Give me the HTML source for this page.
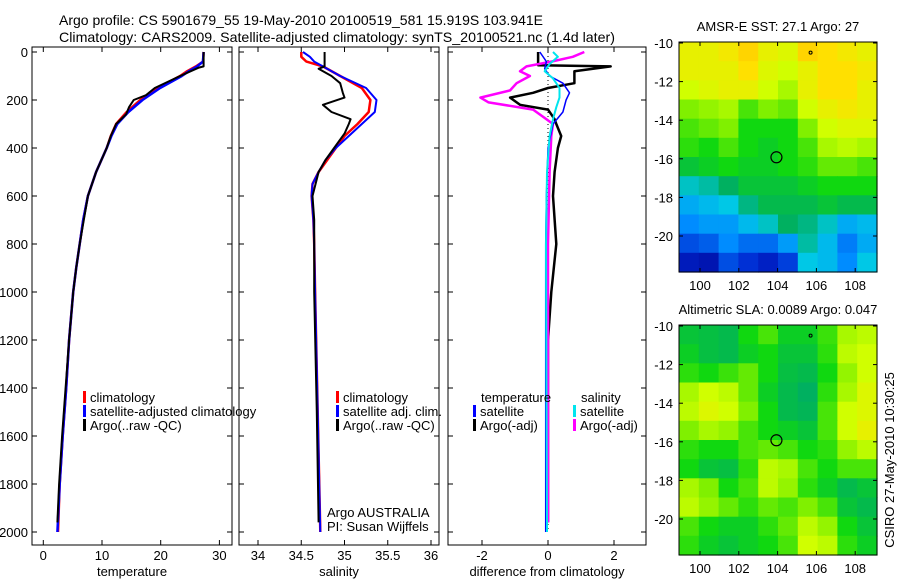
<!DOCTYPE html>
<html><head><meta charset="utf-8"><style>
html,body{margin:0;padding:0;background:#fff;}
svg{display:block;font-family:"Liberation Sans",sans-serif;}
</style></head><body>
<svg id="chart" width="900" height="580" viewBox="0 0 900 580" xmlns="http://www.w3.org/2000/svg">
<text x="59" y="25" font-size="14" textLength="484" lengthAdjust="spacingAndGlyphs">Argo profile: CS 5901679_55 19-May-2010 20100519_581 15.919S 103.941E</text>
<text x="59" y="42" font-size="14" textLength="556" lengthAdjust="spacingAndGlyphs">Climatology: CARS2009. Satellite-adjusted climatology: synTS_20100521.nc (1.4d later)</text>
<g id="plots"></g>
</svg>
<script>
// ---- data ----
const tempClimDepth=[0,40,60,80,100,150,200,250,300,350,400,500,600,700,800,900,1000,1200,1400,1600,1800,2000];
const tempClim=[27.3,27.2,26.0,24.5,23.3,19.5,16.5,14.2,12.4,11.5,10.8,9.0,7.6,6.8,6.2,5.6,5.1,4.4,3.9,3.3,2.8,2.5];
const tempSat=[27.3,27.2,26.2,24.8,23.6,19.9,16.9,14.5,12.6,11.6,10.8,9.0,7.6,6.8,6.2,5.6,5.1,4.4,3.9,3.3,2.8,2.4];
const argoDepth=[0,60,65,100,150,180,200,230,260,300,350,400,500,600,700,800,900,1000,1200,1400,1600,1800,1960];
const tempArgo=[27.3,27.3,26.5,23.3,19.0,17.5,15.4,14.6,14.1,12.4,11.5,10.8,9.0,7.6,6.9,6.2,5.6,5.1,4.4,3.8,3.2,2.7,2.4];
const salClimDepth=[0,20,40,60,100,150,200,250,300,350,400,450,500,550,600,700,800,1000,1500,2000];
const salClim=[34.5,34.5,34.56,34.75,34.95,35.2,35.3,35.28,35.15,35.0,34.9,34.8,34.7,34.63,34.62,34.64,34.65,34.66,34.69,34.72];
const salSat=[34.52,34.6,34.65,34.75,34.95,35.25,35.37,35.35,35.2,35.05,34.9,34.78,34.7,34.63,34.62,34.64,34.65,34.66,34.69,34.72];
const salArgoDepth=[0,60,70,100,130,170,190,220,250,280,300,340,400,450,500,600,700,1000,1500,1960];
const salArgo=[34.77,34.77,34.7,34.85,34.95,34.98,35.0,34.75,34.85,35.07,35.05,35.0,34.88,34.78,34.7,34.63,34.65,34.65,34.68,34.7];
const dTempArgoDepth=[0,55,60,80,100,130,150,170,190,220,240,280,300,350,400,500,600,800,1000,1200,1600,1960];
const dTempArgo=[-0.3,-0.3,1.9,0.8,0.8,0.8,0.0,-0.45,-1.15,-0.85,0.0,0.2,0.25,0.4,0.3,0.2,0.15,0.25,0.1,0.0,0.0,0.0];
const dSalArgoDepth=[0,20,40,60,80,100,130,160,190,210,240,270,300,350,500,800,1200,1960];
const dSalArgo=[1.1,0.75,0.1,-0.65,-0.85,-0.55,-0.95,-1.15,-2.05,-1.8,-0.45,-0.15,0.15,0.1,0.05,0.0,0.0,0.0];
const dSalSatDepth=[0,20,50,80,110,150,190,230,280,350,500,800,2000];
const dSalSat=[0.15,0.3,0.05,-0.1,0.15,0.35,0.35,0.25,0.15,0.05,-0.03,-0.06,-0.03];
const dTempSatDepth=[0,40,70,100,130,170,200,250,300,400,600,800,2000];
const dTempSat=[-0.25,-0.05,-0.1,0.05,0.45,0.65,0.55,0.45,0.15,0.0,-0.05,-0.07,-0.07];
const depthTicks=[0,200,400,600,800,1000,1200,1400,1600,1800,2000];
const tempTicks=[0,10,20,30];
const salTicks=[34,34.5,35,35.5,36];
const salTickLabels=["34","34.5","35","35.5","36"];
const diffTicks=[-2,0,2];
const lonTicks=[100,102,104,106,108];
const latTicks=[-10,-12,-14,-16,-18,-20];
const sstGrid=[
[.72,.72,.74,.78,.72,.70,.78,.76,.74,.72],
[.72,.72,.72,.76,.70,.68,.72,.76,.76,.74],
[.68,.70,.72,.72,.68,.64,.72,.76,.76,.72],
[.60,.62,.64,.56,.60,.58,.68,.72,.74,.72],
[.56,.58,.60,.52,.52,.52,.60,.68,.70,.70],
[.54,.52,.56,.52,.50,.52,.56,.64,.66,.64],
[.48,.50,.52,.50,.50,.52,.54,.58,.58,.56],
[.38,.40,.44,.48,.48,.48,.50,.52,.52,.52],
[.32,.34,.36,.42,.46,.46,.46,.48,.46,.46],
[.28,.30,.30,.34,.38,.44,.42,.38,.32,.34],
[.20,.22,.28,.24,.24,.30,.40,.34,.26,.32],
[.10,.08,.20,.16,.12,.18,.36,.34,.28,.36]];
const slaGrid=[
[.48,.47,.46,.52,.56,.50,.50,.55,.64,.66],
[.50,.47,.46,.50,.52,.48,.48,.54,.66,.68],
[.54,.52,.55,.58,.52,.47,.46,.52,.62,.68],
[.64,.68,.66,.58,.50,.46,.44,.54,.64,.70],
[.66,.70,.68,.60,.52,.46,.45,.56,.68,.70],
[.60,.64,.62,.56,.52,.50,.48,.56,.68,.72],
[.54,.52,.52,.56,.58,.56,.52,.54,.62,.66],
[.52,.48,.47,.54,.66,.64,.56,.52,.56,.56],
[.64,.60,.52,.56,.66,.62,.54,.50,.46,.48],
[.66,.62,.58,.54,.58,.56,.60,.56,.48,.46],
[.56,.52,.50,.50,.54,.58,.66,.62,.52,.48],
[.54,.50,.48,.50,.52,.56,.68,.66,.54,.50]];

const NS="http://www.w3.org/2000/svg";
const plotRoot=document.getElementById('plots');
function mk(tag,attrs,parent){const e=document.createElementNS(NS,tag);for(const k in attrs)e.setAttribute(k,attrs[k]);(parent||plotRoot).appendChild(e);return e;}
function txt(s,x,y,anchor,size,parent){const t=mk('text',{x:x,y:y,'text-anchor':anchor||'start','font-size':size||13},parent);t.textContent=s;return t;}

const yD=d=>52+d*0.24;
const panels=[
 {name:'temperature',x0:32,x1:232,fx:v=>43.3+v*5.87,ticks:tempTicks,labels:tempTicks.map(String),xlabel:'temperature'},
 {name:'salinity',x0:239,x1:439,fx:v=>258+(v-34)*86.5,ticks:salTicks,labels:salTickLabels,xlabel:'salinity'},
 {name:'difference',x0:448,x1:646,fx:v=>548+v*33,ticks:diffTicks,labels:diffTicks.map(String),xlabel:'difference from climatology'}];
const pTop=47,pBot=545;

function drawLine(p,depths,vals,color,name,w){
 const pts=depths.map((d,i)=>p.fx(vals[i]).toFixed(1)+','+yD(d).toFixed(1)).join(' ');
 const l=mk('polyline',{points:pts,fill:'none',stroke:color,'stroke-width':w||2,'stroke-linejoin':'round'});
 
 
}

panels.forEach((p,pi)=>{
 const g=mk('g',{});
 
 
 const fr=mk('rect',{x:p.x0,y:pTop,width:p.x1-p.x0,height:pBot-pTop,fill:'none',stroke:'#000','stroke-width':1},g);
 
 
 p.ticks.forEach((t,i)=>{
  const x=p.fx(t);
  mk('line',{x1:x,y1:pBot,x2:x,y2:pBot-5,stroke:'#000'},g);
  mk('line',{x1:x,y1:pTop,x2:x,y2:pTop+5,stroke:'#000'},g);
  const tl=txt(p.labels[i],x,560,'middle',13,g);
  
  
 });
 depthTicks.forEach(d=>{
  mk('line',{x1:p.x0,y1:yD(d),x2:p.x0+5,y2:yD(d),stroke:'#000'},g);
  mk('line',{x1:p.x1,y1:yD(d),x2:p.x1-5,y2:yD(d),stroke:'#000'},g);
  if(pi===0){const t=txt(String(d),28,yD(d)+5,'end',13,g);
   
   }
 });
 const xl=txt(p.xlabel,(p.x0+p.x1)/2,576,'middle',13,g);
 
 
});

const pT=panels[0],pS=panels[1],pD=panels[2];
drawLine(pT,tempClimDepth,tempClim,'#ff0000','temp-climatology-line',2.5);
drawLine(pT,tempClimDepth,tempSat,'#0000ff','temp-satellite-line',2.5);
drawLine(pT,argoDepth,tempArgo,'#000','temp-argo-line',2);
drawLine(pS,salClimDepth,salClim,'#ff0000','sal-climatology-line',2.5);
drawLine(pS,salClimDepth,salSat,'#0000ff','sal-satellite-line',2);
drawLine(pS,salArgoDepth,salArgo,'#000','sal-argo-line',2);
const zl=mk('line',{x1:pD.fx(0),y1:yD(0),x2:pD.fx(0),y2:yD(2000),stroke:'#000','stroke-dasharray':'1,3'});


drawLine(pD,dTempArgoDepth,dTempArgo,'#000','diff-temp-argo-line',2.5);
drawLine(pD,dSalArgoDepth,dSalArgo,'#ff00ff','diff-sal-argo-line',2.5);
drawLine(pD,dTempSatDepth,dTempSat,'#0000ff','diff-temp-satellite-line',1.5);
drawLine(pD,dSalSatDepth,dSalSat,'#00e5ee','diff-sal-satellite-line',2);

function legend(x,y,color,label,name){
 const g=mk('g',{});
 
 
 mk('rect',{x:x,y:y-11,width:3,height:12,fill:color},g);
 txt(label,x+7,y,'start',13,g);
}
legend(83,402,'#ff0000','climatology','legend-climatology');
legend(83,416,'#0000ff','satellite-adjusted climatology','legend-satellite');
legend(83,430,'#000','Argo(..raw -QC)','legend-argo');
legend(336,402,'#ff0000','climatology','legend-sal-climatology');
legend(336,416,'#0000ff','satellite adj. clim.','legend-sal-satellite');
legend(336,430,'#000','Argo(..raw -QC)','legend-sal-argo');
const lt=txt('temperature',481,402,'start',13);
const ls=txt('salinity',581,402,'start',13);
legend(473,416,'#0000ff','satellite','legend-diff-temp-satellite');
legend(473,430,'#000','Argo(-adj)','legend-diff-temp-argo');
legend(573,416,'#00e5ee','satellite','legend-diff-sal-satellite');
legend(573,430,'#ff00ff','Argo(-adj)','legend-diff-sal-argo');
const a1=txt('Argo AUSTRALIA',327,517,'start',13);
const a2=txt('PI: Susan Wijffels',327,531,'start',13);

// colormap
const stops=[[0,[0,0,140]],[0.15,[0,40,210]],[0.28,[0,140,255]],[0.36,[0,200,230]],[0.44,[0,176,96]],[0.52,[16,216,16]],[0.6,[128,240,0]],[0.68,[208,255,0]],[0.76,[255,224,0]],[0.84,[255,176,0]]];
function cmap(v){for(let i=1;i<stops.length;i++){if(v<=stops[i][0]){const a=stops[i-1],b=stops[i],t=(v-a[0])/(b[0]-a[0]);return 'rgb('+a[1].map((c,k)=>Math.round(c+(b[1][k]-c)*t)).join(',')+')';}}return 'rgb(255,176,0)';}

function drawMap(gridVals,mTop,name,title){
 const left=679,right=877,bottom=mTop+230;
 const fx=lon=>700+(lon-100)*19.4, fy=lat=>mTop+1+(-10-lat)*19.3;
 const g=mk('g',{});
 
 
 const rows=gridVals.length,cols=gridVals[0].length;
 const cw=(right-left)/cols,ch=(bottom-mTop)/rows;
 gridVals.forEach((row,r)=>row.forEach((v,c)=>{
  const cell=mk('rect',{x:(left+c*cw).toFixed(1),y:(mTop+r*ch).toFixed(1),width:(cw+0.6).toFixed(1),height:(ch+0.6).toFixed(1),fill:cmap(v)},g);
  
  
 }));
 mk('rect',{x:left,y:mTop,width:right-left,height:bottom-mTop,fill:'none',stroke:'#000','stroke-width':1},g);
 lonTicks.forEach(l=>{mk('line',{x1:fx(l),y1:bottom,x2:fx(l),y2:bottom-4,stroke:'#000'},g);mk('line',{x1:fx(l),y1:mTop,x2:fx(l),y2:mTop+4,stroke:'#000'},g);
  const t=txt(String(l),fx(l),bottom+18,'middle',13,g);});
 latTicks.forEach(l=>{mk('line',{x1:left,y1:fy(l),x2:left+4,y2:fy(l),stroke:'#000'},g);mk('line',{x1:right,y1:fy(l),x2:right-4,y2:fy(l),stroke:'#000'},g);
  const t=txt(String(l),673,fy(l)+5,'end',13,g);});
 const c=mk('circle',{cx:fx(103.94),cy:fy(-15.92),r:5.5,fill:'none',stroke:'#000','stroke-width':1.2},g);
 
 
 mk('circle',{cx:fx(105.7),cy:fy(-10.5),r:1.5,fill:'none',stroke:'#000','stroke-width':1},g);
 const t=txt(title,(left+right)/2,mTop-11,'middle',13,g);
 
 
}
drawMap(sstGrid,42,'sst-map','AMSR-E SST: 27.1 Argo: 27');
drawMap(slaGrid,325,'sla-map','Altimetric SLA: 0.0089 Argo: 0.047');
const cs=txt('CSIRO 27-May-2010 10:30:25',0,0,'middle',13);
cs.setAttribute('transform','translate(894,460) rotate(-90)');


</script>
</body></html>
